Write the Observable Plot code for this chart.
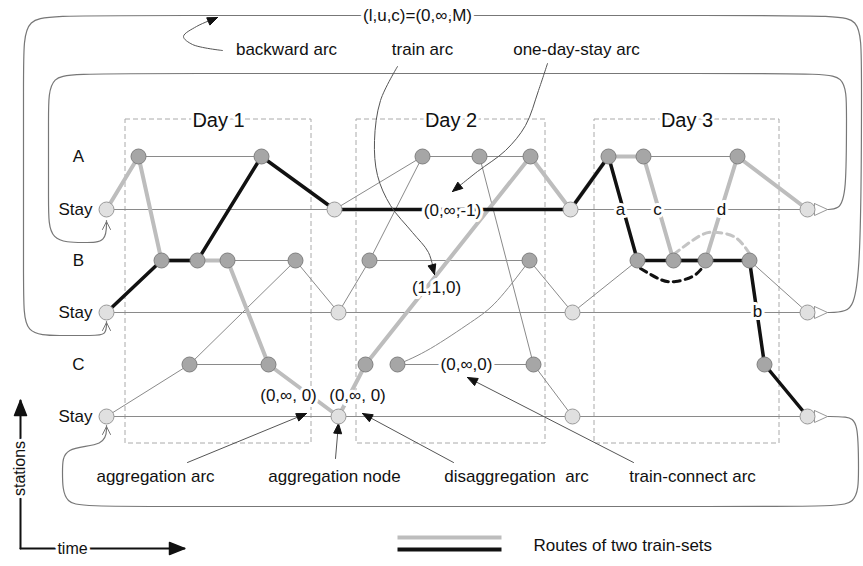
<!DOCTYPE html>
<html><head><meta charset="utf-8">
<script src="https://cdn.jsdelivr.net/npm/d3@7"></script>
<script src="https://cdn.jsdelivr.net/npm/@observablehq/plot@0.6"></script>
<style>html,body{margin:0;padding:0;background:#fff}#chart svg{display:block}</style>
</head><body><div id="chart"></div>
<script>
// ---------- data ----------
const rows = [
  {id:"A", label:"A", y:156}, {id:"SA", label:"Stay", y:209},
  {id:"B", label:"B", y:260}, {id:"SB", label:"Stay", y:312},
  {id:"C", label:"C", y:364}, {id:"SC", label:"Stay", y:416}
];
const days = [
  {label:"Day 1", t1:125, t2:311}, {label:"Day 2", t1:356, t2:545}, {label:"Day 3", t1:594, t2:779}
];
const dayTop = 119, dayBottom = 443;
const nodeList = [
  ["a1","A",138],["a2","A",261],["a3","A",422],["a4","A",479],["a5","A",530],["a6","A",608],["a7","A",643],["a8","A",737],
  ["sa0","SA",106],["sa1","SA",334],["sa2","SA",570],["sa3","SA",807],
  ["b1","B",161],["b2","B",197],["b3","B",227],["b4","B",295],["b5","B",369],["b6","B",529],["b7","B",637],["b8","B",673],["b9","B",705],["b10","B",749],
  ["sb0","SB",106],["sb1","SB",338],["sb2","SB",572],["sb3","SB",807],
  ["c1","C",189],["c2","C",268],["c3","C",365],["c4","C",397],["c5","C",533],["c6","C",764],
  ["sc0","SC",106],["sc1","SC",338],["sc2","SC",572],["sc3","SC",807]
];
const thinArcs = [
  ["sa0","sa3"],["sb0","sb3"],["sc0","sc3"],
  ["a1","a2"],["b3","b4"],["c1","c2"],["sc0","c1"],["c1","b4"],["b4","sb1"],["sb1","b5"],
  ["b5","a3"],["sa1","a3"],["a3","a4"],["a4","a5"],["b5","b6"],["a4","c5"],["c4","c5"],
  ["c5","sc2"],["b6","sb2"],["sb2","b7"],["a7","a8"],["b10","sb3"]
];
const curvedArc = [[397,364],[430,348],[470,322],[497,300],[529,260]];
const routeGray  = ["sa0","a1","b1","b2","b3","c2","sc1","c3","a5","sa2","a6","a7","b8","b9","a8","sa3"];
const routeBlack = ["sb0","b1","b2","a2","sa1","sa2","a6","b7","b8","b9","b10","c6","sc3"];
const dashGray  = [[673,254],[700,235],[717,232],[735,237],[749,253]];
const dashBlack = [[640,268],[660,279],[675,281],[692,276],[702,267]];
const loops = [
  {id:"outer",  pts:[[826,312],[845,312],[861,300],[861,60],[861,15],[820,15],[70,15],[23,15],[23,60],[23,295],[23,335],[60,335],[92,335],[106,335],[106,321]]},
  {id:"middle", pts:[[826,209],[838,209],[846,196],[846,110],[846,73],[808,73],[88,73],[48,73],[48,113],[48,205],[48,242],[85,242],[106,242],[106,220]]},
  {id:"bottom", pts:[[826,416],[846,416],[858,420],[858,470],[858,506],[820,506],[98,506],[62,506],[62,470],[62,446],[106,446],[106,425]]}
];
const leftTips = [[106,221],[106,322],[106,426]];
const pointers = [
  {id:"backward", pts:[[222,50],[192,44],[183,36],[196,26],[217,17]]},
  {id:"train", pts:[[397,66],[380,100],[374,140],[377,175],[390,205],[412,232],[428,252],[434,274]]},
  {id:"stay", pts:[[547,63],[538,90],[525,125],[505,150],[477,171],[452,191]]},
  {id:"aggArc", pts:[[187,462],[306,413]]},
  {id:"aggNode", pts:[[335,458],[338,423]]},
  {id:"disagg", pts:[[453,462],[362,413]]},
  {id:"connect", pts:[[633,462],[467,377]]}
];
const annotations = [
  {text:"backward arc", t:286, y:49}, {text:"train arc", t:422, y:49}, {text:"one-day-stay arc", t:576, y:49},
  {text:"aggregation arc", t:155, y:476}, {text:"aggregation node", t:334, y:476},
  {text:"disaggregation\u00a0 arc", t:516, y:476}, {text:"train-connect arc", t:692, y:476}
];
const arcLabels = [
  {text:"(l,u,c)=(0,\u221e,M)", t:417, y:15}, {text:"(0,\u221e,-1)", t:452, y:210},
  {text:"(1,1,0)", t:436, y:287}, {text:"(0,\u221e,0)", t:466, y:364},
  {text:"(0,\u221e, 0)", t:288, y:395}, {text:"(0,\u221e, 0)", t:357, y:395},
  {text:"a", t:620, y:209}, {text:"c", t:657, y:209}, {text:"d", t:721, y:209}, {text:"b", t:757, y:311}
];
const legend = [{color:"#bdbdbd", y:537}, {color:"#111", y:549}];
const legendText = "Routes of two train-sets";

// ---------- derived ----------
const rowY = Object.fromEntries(rows.map(r => [r.id, r.y]));
const nodes = nodeList.map(([id,row,t]) => ({id,row,t,y:rowY[row],stay:row.startsWith("S")}));
const P = Object.fromEntries(nodes.map(n => [n.id, n]));
const toPts = (ids, name) => ids.map(id => ({id:name, t:P[id].t, y:P[id].y}));
const flat = (arr) => arr.flatMap(o => o.pts.map(([t,y]) => ({id:o.id, t, y})));
function head(pts, id, L, w) {
  const [tx,ty] = pts[pts.length-1], [px,py] = pts[pts.length-2];
  const d = Math.hypot(tx-px, ty-py), ux = (tx-px)/d, uy = (ty-py)/d;
  const bx = tx-L*ux, by = ty-L*uy;
  return [[tx,ty],[bx - w*uy, by + w*ux],[bx + w*uy, by - w*ux],[tx,ty]].map(([t,y]) => ({id, t, y}));
}
const heads = pointers.flatMap(p => head(p.pts, p.id, 10, 4));
const vees = leftTips.flatMap(([t,y],i) => [{id:i,t:t-4,y:y+8},{id:i,t,y},{id:i,t:t+4,y:y+8}]);
const tris = nodes.filter(n => n.t > 800).flatMap(n => [
  {id:n.id,t:n.t+7,y:n.y-6},{id:n.id,t:n.t+20,y:n.y},{id:n.id,t:n.t+7,y:n.y+6},{id:n.id,t:n.t+7,y:n.y-6}]);
const axisV = [[20,548],[20,400]], axisH = [[20,548],[184,548]];
const axisHeads = [...head(axisV,"v",15,6), ...head(axisH,"h",15,6)];

const font = "'Liberation Sans', Arial, sans-serif";
const halo = (data, opts) => [
  Plot.text(data, {...opts, fill:"white", stroke:"white", strokeWidth:6}),
  Plot.text(data, {...opts, fill:"#111"})
];

const chart = Plot.plot({
  width:863, height:566, margin:0,
  x:{domain:[0,863], range:[0,863], axis:null},
  y:{domain:[0,566], range:[0,566], axis:null},
  style:{fontFamily:font, background:"white"},
  marks:[
    Plot.rect(days, {x1:"t1", x2:"t2", y1:() => dayTop, y2:() => dayBottom, fill:"none", stroke:"#aaa", strokeDasharray:"5,3"}),
    Plot.line(flat(loops), {x:"t", y:"y", z:"id", curve:"basis", stroke:"#777", strokeWidth:1.2}),
    Plot.line(vees, {x:"t", y:"y", z:"id", stroke:"#777", strokeWidth:1}),
    Plot.link(thinArcs, {x1:d=>P[d[0]].t, y1:d=>P[d[0]].y, x2:d=>P[d[1]].t, y2:d=>P[d[1]].y, stroke:"#8a8a8a", strokeWidth:1}),
    Plot.line(curvedArc, {x:d=>d[0], y:d=>d[1], curve:"natural", stroke:"#8a8a8a", strokeWidth:1}),
    Plot.line(tris, {x:"t", y:"y", z:"id", fill:"white", stroke:"#999", strokeWidth:1}),
    Plot.line(toPts(routeGray,"g"), {x:"t", y:"y", stroke:"#bdbdbd", strokeWidth:4, strokeLinejoin:"round"}),
    Plot.line(dashGray, {x:d=>d[0], y:d=>d[1], curve:"natural", stroke:"#c4c4c4", strokeWidth:3, strokeDasharray:"7,5"}),
    Plot.line(toPts(routeBlack,"k"), {x:"t", y:"y", stroke:"#111", strokeWidth:3.5, strokeLinejoin:"round"}),
    Plot.line(dashBlack, {x:d=>d[0], y:d=>d[1], curve:"natural", stroke:"#111", strokeWidth:3, strokeDasharray:"7,5"}),
    // axes
    Plot.line([...axisV.map(([t,y])=>({id:"v",t,y})), ...axisH.map(([t,y])=>({id:"h",t,y}))], {x:"t", y:"y", z:"id", stroke:"#111", strokeWidth:2}),
    Plot.line(axisHeads, {x:"t", y:"y", z:"id", fill:"#111", stroke:"#111"}),
    ...halo([{text:"stations", t:19, y:468}], {x:"t", y:"y", text:"text", rotate:-90, fontSize:16}),
    ...halo([{text:"time", t:72, y:548}], {x:"t", y:"y", text:"text", fontSize:16}),
    // labels
    ...halo(days, {x:d=>(d.t1+d.t2)/2, y:() => dayTop + 1, text:"label", fontSize:20}),
    ...halo(arcLabels, {x:"t", y:"y", text:"text", fontSize:17}),
    Plot.line(flat(pointers), {x:"t", y:"y", z:"id", curve:"catmull-rom", stroke:"#555", strokeWidth:1}),
    Plot.line(heads, {x:"t", y:"y", z:"id", fill:"#111", stroke:"#111", strokeWidth:1}),
    Plot.text(annotations, {x:"t", y:"y", text:"text", fontSize:17, fill:"#111"}),
    Plot.text(rows.filter(r=>r.label!=="Stay"), {x:() => 78, y:"y", text:"label", fontSize:17, fill:"#111"}),
    Plot.text(rows.filter(r=>r.label==="Stay"), {x:() => 92, y:"y", text:"label", textAnchor:"end", fontSize:17, fill:"#111"}),
    // nodes
    Plot.dot(nodes, {x:"t", y:"y", r:7.5, fill:d=>d.stay?"#e0e0e0":"#a6a6a6", stroke:d=>d.stay?"#9a9a9a":"#808080", strokeWidth:1}),
    // legend
    Plot.link(legend, {x1:() => 397, x2:() => 501, y1:"y", y2:"y", stroke:"color", strokeWidth:4}),
    Plot.text([legendText], {x:() => 533, y:() => 545, text:d=>d, textAnchor:"start", fontSize:17, fill:"#111"})
  ]
});
document.getElementById("chart").appendChild(chart);
</script></body></html>
